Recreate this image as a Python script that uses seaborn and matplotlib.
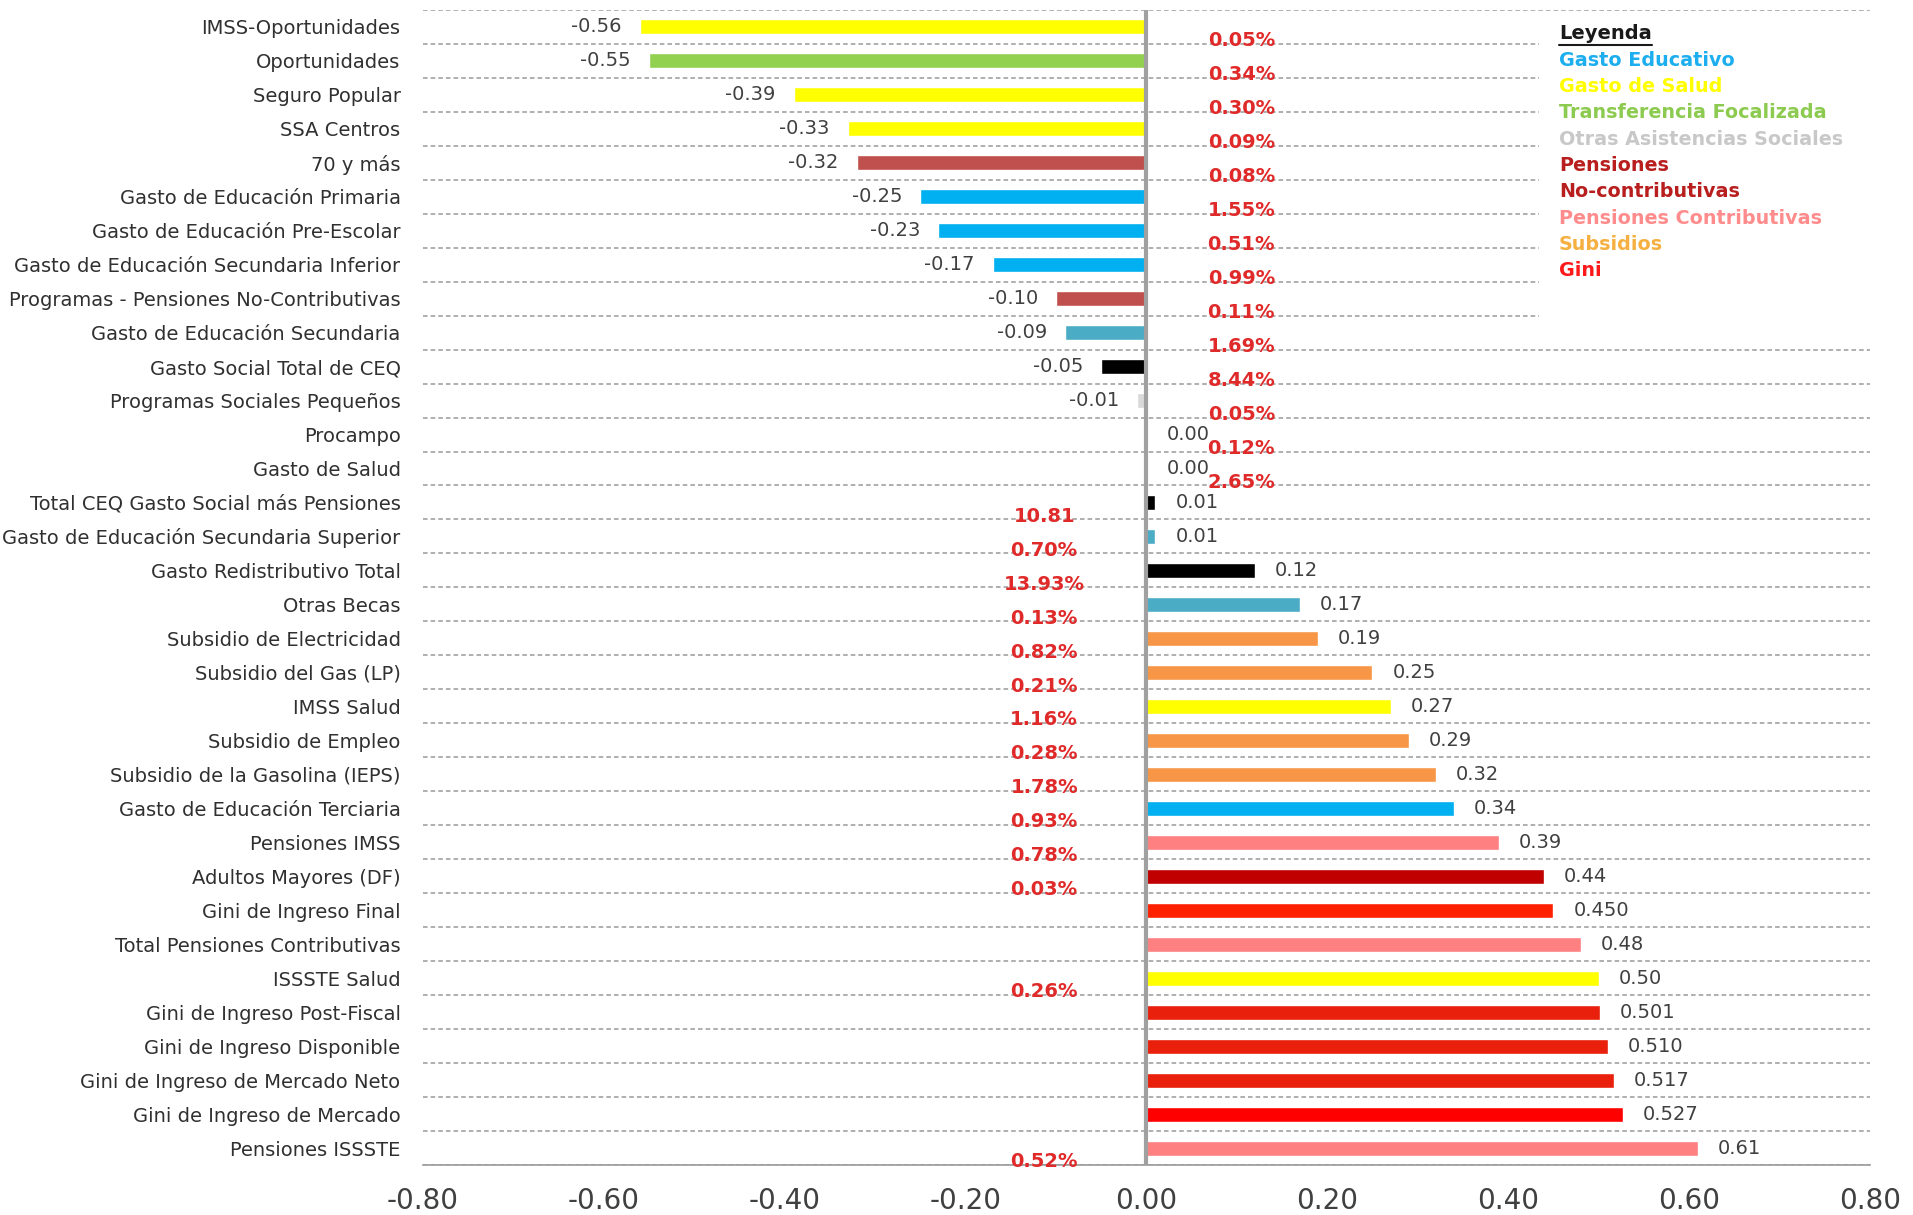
import numpy as np
import pandas as pd
import matplotlib
matplotlib.use("Agg")
import matplotlib.pyplot as plt
from matplotlib.patches import Rectangle
from matplotlib.lines import Line2D
import seaborn as sns

# Data
categories = [
    "IMSS-Oportunidades", "Oportunidades", "Seguro Popular", "SSA Centros", "70 y más",
    "Gasto de Educación Primaria", "Gasto de Educación Pre-Escolar",
    "Gasto de Educación Secundaria Inferior", "Programas - Pensiones No-Contributivas",
    "Gasto de Educación Secundaria", "Gasto Social Total de CEQ", "Programas Sociales Pequeños",
    "Procampo", "Gasto de Salud", "Total CEQ Gasto Social más Pensiones",
    "Gasto de Educación Secundaria Superior", "Gasto Redistributivo Total", "Otras Becas",
    "Subsidio de Electricidad", "Subsidio del Gas (LP)", "IMSS Salud", "Subsidio de Empleo",
    "Subsidio de la Gasolina (IEPS)", "Gasto de Educación Terciaria", "Pensiones IMSS",
    "Adultos Mayores (DF)", "Gini de Ingreso Final", "Total Pensiones Contributivas",
    "ISSSTE Salud", "Gini de Ingreso Post-Fiscal", "Gini de Ingreso Disponible",
    "Gini de Ingreso de Mercado Neto", "Gini de Ingreso de Mercado", "Pensiones ISSSTE",
]
values = [-0.56, -0.55, -0.39, -0.33, -0.32, -0.25, -0.23, -0.17, -0.10, -0.09, -0.05, -0.01,
          0.00, 0.00, 0.01, 0.01, 0.12, 0.17, 0.19, 0.25, 0.27, 0.29, 0.32, 0.34, 0.39,
          0.44, 0.450, 0.48, 0.50, 0.501, 0.510, 0.517, 0.527, 0.61]
value_labels = ["-0.56", "-0.55", "-0.39", "-0.33", "-0.32", "-0.25", "-0.23", "-0.17", "-0.10",
                "-0.09", "-0.05", "-0.01", "0.00", "0.00", "0.01", "0.01", "0.12", "0.17", "0.19",
                "0.25", "0.27", "0.29", "0.32", "0.34", "0.39", "0.44", "0.450", "0.48", "0.50",
                "0.501", "0.510", "0.517", "0.527", "0.61"]
bar_colors = ["#FFFF00", "#92D050", "#FFFF00", "#FFFF00", "#C0504D", "#00B0F0", "#00B0F0",
              "#00B0F0", "#C0504D", "#4BACC6", "#000000", "#D9D9D9", "#FFFFFF", "#FFFFFF",
              "#000000", "#4BACC6", "#000000", "#4BACC6", "#F79646", "#F79646", "#FFFF00",
              "#F79646", "#F79646", "#00B0F0", "#FF8080", "#C00000", "#FF2000", "#FF8080",
              "#FFFF00", "#E8200C", "#E8200C", "#E8200C", "#FF0000", "#FF8080"]
# red share labels (right column for the first 14 rows, left column after)
share_right = ["0.05%", "0.34%", "0.30%", "0.09%", "0.08%", "1.55%", "0.51%", "0.99%",
               "0.11%", "1.69%", "8.44%", "0.05%", "0.12%", "2.65%"]
share_left = ["10.81", "0.70%", "13.93%", "0.13%", "0.82%", "0.21%", "1.16%", "0.28%",
              "1.78%", "0.93%", "0.78%", "0.03%", "", "", "0.26%", "", "", "", "", "0.52%"]
legend_items = ["Gasto Educativo", "Gasto de Salud", "Transferencia Focalizada",
                "Otras Asistencias Sociales", "Pensiones", "No-contributivas",
                "Pensiones Contributivas", "Subsidios", "Gini"]
legend_colors = ["#1CAEEE", "#FFFF00", "#8CCB4F", "#C8C8C8", "#B81E1E", "#B81E1E",
                 "#FF8C8C", "#F5B041", "#FF1A1A"]
x_ticks = [-0.8, -0.6, -0.4, -0.2, 0.0, 0.2, 0.4, 0.6, 0.8]

df = pd.DataFrame({"cat": categories, "val": values})

sns.set_style("white")
plt.rcParams["font.family"] = ["DejaVu Sans"]

fig = plt.figure(figsize=(19.13, 12.15), dpi=100)
ax = fig.add_axes([0.221, 0.041, 0.7565, 0.951])

sns.barplot(data=df, x="val", y="cat", hue="cat", palette=bar_colors, legend=False,
            orient="h", width=0.45, saturation=1, ax=ax)

n = len(categories)
ax.set_xlim(-0.8, 0.8)
ax.set_ylim(n - 0.5, -0.5)
ax.set_xticks(x_ticks)
ax.set_xticklabels([f"{t:.2f}" for t in x_ticks], fontsize=20, color="#404040")
ax.set_xlabel("")
ax.set_ylabel("")

# dashed separators between categories
ax.set_yticks(np.arange(n + 1) - 0.5, minor=True)
ax.set_axisbelow(True)
ax.grid(which="minor", axis="y", linestyle=(0, (3, 2)), color="#9A9A9A", linewidth=1.1)
ax.grid(which="major", axis="both", visible=False)
ax.tick_params(axis="y", which="both", length=0, pad=16, labelsize=14, labelcolor="#303030")
ax.tick_params(axis="x", length=10, width=1.2, color="#9A9A9A", direction="out", pad=6)

for s in ["top", "right", "left"]:
    ax.spines[s].set_visible(False)
ax.spines["bottom"].set_color("#9A9A9A")
ax.spines["bottom"].set_linewidth(1.2)
ax.axvline(0, color="#A0A0A0", linewidth=3, zorder=3)

# value labels
for i, (v, lab) in enumerate(zip(values, value_labels)):
    if v < 0:
        ax.text(v - 0.02, i, lab, ha="right", va="center", fontsize=14, color="#404040")
    else:
        ax.text(v + 0.022, i, lab, ha="left", va="center", fontsize=14, color="#404040")

# red share labels
for i, lab in enumerate(share_right):
    ax.text(0.105, i + 0.4, lab, ha="center", va="center", fontsize=14,
            fontweight="bold", color="#E02A2A")
for j, lab in enumerate(share_left):
    if lab:
        ax.text(-0.113, len(share_right) + j + 0.4, lab, ha="center", va="center",
                fontsize=14, fontweight="bold", color="#E02A2A")

# legend box
ax.add_patch(Rectangle((0.434, -0.35), 0.366, 9.2, facecolor="white", edgecolor="none", zorder=2))
head = ax.text(0.456, 0.2, "Leyenda", ha="left", va="center", fontsize=14,
               fontweight="bold", color="#1A1A1A", zorder=4)
for k, (t, c) in enumerate(zip(legend_items, legend_colors)):
    ax.text(0.456, 0.98 + k * 0.775, t, ha="left", va="center", fontsize=13.8,
            fontweight="bold", color=c, zorder=4)

fig.canvas.draw()
bb = head.get_window_extent()
fig.add_artist(Line2D([bb.x0 / fig.bbox.width, bb.x1 / fig.bbox.width],
                      [(bb.y0 - 2) / fig.bbox.height] * 2, color="#1A1A1A", linewidth=1.5))

fig.savefig("out.png", dpi=100, facecolor="white")
